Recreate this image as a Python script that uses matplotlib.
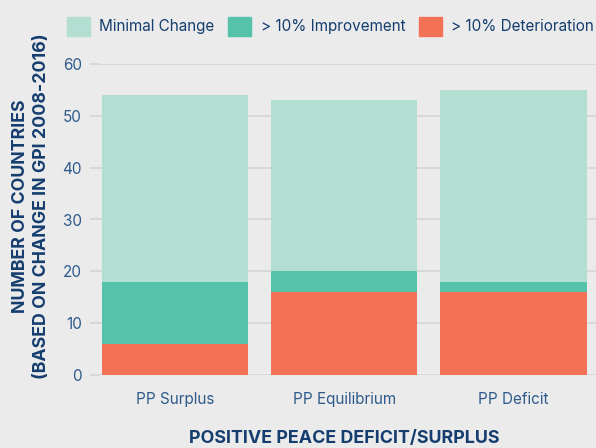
import numpy as np
import matplotlib
matplotlib.use("Agg")
import matplotlib.pyplot as plt
from matplotlib.patches import Patch

plt.rcParams['font.family'] = ['Inter', 'DejaVu Sans']

# data
categories = ['PP Surplus', 'PP Equilibrium', 'PP Deficit']
deterioration = [6, 16, 16]
improvement = [12, 4, 2]
minimal = [36, 33, 37]

c_min = '#B3DFD2'
c_imp = '#55C2AA'
c_det = '#F37256'
bg = '#EBEBEB'
navy = '#153E6F'
tick_col = '#2F5B8C'

fig = plt.figure(figsize=(5.96, 4.48), dpi=100, facecolor=bg)
# axes spans 100..600 px horizontally, 64..375 px vertically
ax = fig.add_axes([100 / 596, 73 / 448, 500 / 596, 311 / 448], facecolor=bg)

x = np.arange(len(categories))
w = 0.865
det = np.array(deterioration)
imp = np.array(improvement)
mnl = np.array(minimal)
ax.bar(x, det, w, color=c_det, zorder=3)
ax.bar(x, imp, w, bottom=det, color=c_imp, zorder=3)
ax.bar(x, mnl, w, bottom=det + imp, color=c_min, zorder=3)

ax.set_xlim(-0.443, 2.511)
ax.set_ylim(0, 60)
ax.set_yticks(range(0, 61, 10))
ax.grid(axis='y', color='#D5D5D5', linewidth=1.2, zorder=0)
for s in ax.spines.values():
    s.set_visible(False)
ax.tick_params(axis='y', length=7.5, color='#D5D5D5', width=1.2, labelsize=11,
               labelcolor=tick_col, pad=5.5)
ax.tick_params(axis='x', length=0, labelsize=11, labelcolor=tick_col, pad=12)
ax.set_xticks(x)
ax.set_xticklabels(categories)

fig.text(31 / 596, 1 - 206.5 / 448,
         'NUMBER OF COUNTRIES\n(BASED ON CHANGE IN GPI 2008-2016)',
         rotation=90, ha='center', va='center', multialignment='center',
         fontsize=12.8, fontweight='bold', color=navy, linespacing=1.3)
fig.text(344 / 596, 1 - 438 / 448, 'POSITIVE PEACE DEFICIT/SURPLUS',
         ha='center', va='center', fontsize=12.9, fontweight='bold', color=navy)

handles = [Patch(color=c_min, label='Minimal Change'),
           Patch(color=c_imp, label='> 10% Improvement'),
           Patch(color=c_det, label='> 10% Deterioration')]
leg = fig.legend(handles=handles, loc='upper left', bbox_to_anchor=(0.09, 0.993),
                 ncol=3, frameon=False, fontsize=11, labelcolor=navy,
                 handlelength=1.5, handleheight=1.5, handletextpad=0.6,
                 columnspacing=0.9)

fig.savefig('out.png', dpi=100, facecolor=bg)
